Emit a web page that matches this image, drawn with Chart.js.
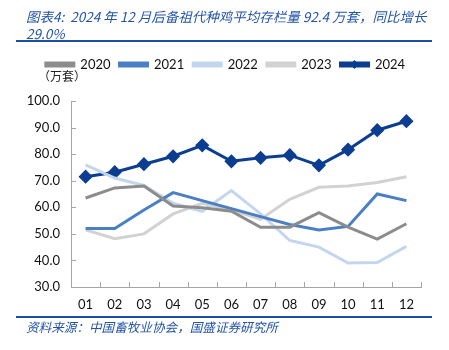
<!DOCTYPE html>
<html>
<head>
<meta charset="utf-8">
<script src="https://cdn.jsdelivr.net/npm/chart.js@4/dist/chart.umd.min.js"></script>
<style>
  html, body { margin: 0; padding: 0; background: #fff; }
  #wrap { position: relative; width: 449px; height: 350px; overflow: hidden; }
  #c { position: absolute; left: 0; top: 0; }
  .title { position: absolute; left: 26px; top: 8px; font: italic 13.5px "Noto Sans CJK SC", sans-serif; color: #2354a6; line-height: 17px; white-space: nowrap; }
  .rule { position: absolute; left: 16px; width: 416px; height: 2px; background: #1d4f9f; }
  .unit { position: absolute; left: 38px; top: 67px; font: 12px "Noto Sans CJK SC", sans-serif; color: #222; }
  .src { position: absolute; left: 26px; top: 317px; font: italic 12.6px "Noto Sans CJK SC", sans-serif; color: #2354a6; }
</style>
</head>
<body>
<div id="wrap">
  <canvas id="c" width="449" height="350"></canvas>
  <div class="title">图表4:&nbsp; 2024 年 12 月后备祖代种鸡平均存栏量 92.4 万套，同比增长<br>29.0%</div>
  <div class="rule" style="top:40px"></div>
  <div class="unit">（万套）</div>
  <div class="rule" style="top:316px"></div>
  <div class="src">资料来源：中国畜牧业协会，国盛证券研究所</div>
</div>
<script>
const months = ['01', '02', '03', '04', '05', '06', '07', '08', '09', '10', '11', '12'];
const s2020 = [63.5, 67.3, 68.0, 60.5, 59.8, 58.5, 52.5, 52.5, 58.0, 52.5, 48.0, 53.8];
const s2021 = [52.0, 52.0, 59.0, 65.5, 62.5, 59.5, 56.5, 53.5, 51.5, 52.8, 65.0, 62.5];
const s2022 = [76.0, 71.0, 68.2, 61.5, 58.5, 66.3, 57.5, 47.5, 45.0, 39.0, 39.2, 45.3];
const s2023 = [51.5, 48.2, 50.0, 57.5, 61.5, 59.0, 55.5, 63.0, 67.5, 68.0, 69.3, 71.5];
const s2024 = [71.5, 73.2, 76.2, 79.2, 83.3, 77.3, 78.6, 79.6, 75.8, 81.7, 89.0, 92.4];
const yTicks = [30, 40, 50, 60, 70, 80, 90, 100];

const AXIS = '#a6a6a6';
const LEGEND_EXTRA = 20;   // gap between legend and plot
const LEGEND_SHIFT = 5;    // legend is a bit right of centre in the original

const tweaks = {
  id: 'tweaks',
  beforeLayout(chart) {
    const lg = chart.legend;
    if (lg && !lg._patched) {
      const fit = lg.fit.bind(lg);
      lg.fit = function () { fit(); this.height += LEGEND_EXTRA; };
      lg._patched = true;
    }
  },
  afterLayout(chart) {
    const lg = chart.legend;
    if (lg) { lg.left += LEGEND_SHIFT; lg.right += LEGEND_SHIFT; }
  },
  // ticks drawn inside the plot, like the original
  afterDraw(chart) {
    const { ctx, chartArea, scales } = chart;
    ctx.save();
    ctx.strokeStyle = AXIS;
    ctx.lineWidth = 1;
    ctx.beginPath();
    for (const v of yTicks) {
      const y = Math.round(scales.y.getPixelForValue(v)) + 0.5;
      ctx.moveTo(chartArea.left, y);
      ctx.lineTo(chartArea.left + 5, y);
    }
    const step = (chartArea.right - chartArea.left) / months.length;
    for (let i = 1; i <= months.length; i++) {
      const x = Math.round(chartArea.left + i * step) + 0.5;
      ctx.moveTo(x, chartArea.bottom);
      ctx.lineTo(x, chartArea.bottom - 5);
    }
    ctx.stroke();
    // diamond on the 2024 legend sample
    const box = chart.legend.legendHitBoxes[4];
    if (box) {
      const cx = box.left + 14, cy = box.top + box.height / 2;
      ctx.fillStyle = '#0b3d91';
      ctx.beginPath();
      ctx.moveTo(cx, cy - 4.5);
      ctx.lineTo(cx + 4.5, cy);
      ctx.lineTo(cx, cy + 4.5);
      ctx.lineTo(cx - 4.5, cy);
      ctx.closePath();
      ctx.fill();
    }
    ctx.restore();
  }
};

const line = (label, data, color, extra) => Object.assign({
  label, data,
  borderColor: color,
  backgroundColor: color,
  borderWidth: 3,
  pointRadius: 0,
  tension: 0,
  fill: false,
}, extra || {});

new Chart(document.getElementById('c'), {
  type: 'line',
  data: {
    labels: months,
    datasets: [
      line('2020', s2020, '#8c8c8c'),
      line('2021', s2021, '#4a7fc6'),
      line('2022', s2022, '#c3d6ee'),
      line('2023', s2023, '#d2d2d2'),
      line('2024', s2024, '#0b3d91', { pointStyle: 'rectRot', pointRadius: 5, pointHoverRadius: 5 }),
    ],
  },
  options: {
    responsive: false,
    animation: false,
    events: [],
    layout: { padding: { top: 49, left: 20, right: 28, bottom: 38 } },
    plugins: {
      legend: {
        position: 'top',
        labels: {
          boxWidth: 28,
          boxHeight: 3,
          padding: 9,
          color: '#111',
          font: { family: 'Lato', size: 13 },
        },
      },
      tooltip: { enabled: false },
    },
    scales: {
      x: {
        offset: true,
        grid: { display: false, drawTicks: false },
        border: { display: true, color: AXIS, width: 1 },
        ticks: { color: '#111', padding: 10, font: { family: 'Lato', size: 13 } },
        afterFit(s) { s.height = 25; },
      },
      y: {
        min: 30, max: 100,
        afterBuildTicks(s) { s.ticks = yTicks.map(v => ({ value: v })); },
        grid: { display: false, drawTicks: false },
        border: { display: true, color: AXIS, width: 1 },
        ticks: {
          color: '#111', padding: 11,
          font: { family: 'Lato', size: 13 },
          callback: v => v.toFixed(1),
        },
        afterFit(s) { s.width = 51; },
      },
    },
  },
  plugins: [tweaks],
});
</script>
</body>
</html>
